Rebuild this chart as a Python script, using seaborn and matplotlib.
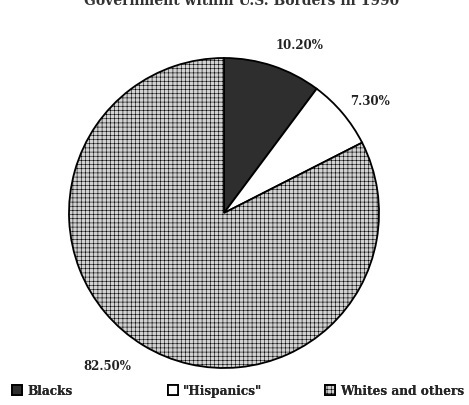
import seaborn as sns
from matplotlib import pyplot as plt

sns.set_style("white")
plt.rcParams['font.family'] = ['DejaVu Serif']
plt.rcParams['hatch.color'] = '#b8b8b8'
plt.rcParams['hatch.linewidth'] = 0.4

groups = ['Blacks', '"Hispanics"', 'Whites and others']
shares = [10.2, 7.3, 82.5]
pct_labels = ['10.20%', '7.30%', '82.50%']
title = "Government within U.S. Borders in 1990"

colors = ['#2e2e2e', '#ffffff', '#d2d2d2']
hatches = [None, None, '++++']

W, H = 469, 406
fig = plt.figure(figsize=(W / 100, H / 100), dpi=100)
ax = fig.add_axes([0, 0, 1, 1])

wedges, _ = ax.pie(shares, colors=colors, startangle=90, counterclock=False,
                   radius=1.0,
                   wedgeprops=dict(edgecolor='black', linewidth=1.3))
for w, h in zip(wedges, hatches):
    if h:
        w.set_hatch(h)

# map pie units to the picture: radius ~155 px, centre at (224, 214)
R = 155.0
cx, cy = 224, 214
ax.set_xlim(-cx / R, (W - cx) / R)
ax.set_ylim(-(H - cy) / R, cy / R)
ax.set_aspect('equal')
ax.axis('off')

# percentage labels
label_pos = [(0.49, 1.084), (0.942, 0.729), (-0.755, -0.981)]
for (x, y), t in zip(label_pos, pct_labels):
    ax.text(x, y, t, ha='center', va='center', fontsize=8.5,
            fontweight='bold', color='#222222')

# title is cut off at the top of the image
fig.text(0.515, 1.0 - 5 / H, title, ha='center', va='baseline',
         fontsize=10, fontweight='bold', color='#333333')

# legend entries spread along the bottom, one per group
leg_x = [12, 168, 325]
for x, w, g in zip(leg_x, wedges, groups):
    leg = fig.legend([w], [g], loc='center left',
                     bbox_to_anchor=(x / W, 14 / H), frameon=False,
                     borderpad=0, borderaxespad=0,
                     handlelength=0.85, handleheight=0.85,
                     handletextpad=0.4,
                     prop=dict(weight='bold', size=8.7))
    fig.add_artist(leg)

plt.savefig("out.png", dpi=100)
